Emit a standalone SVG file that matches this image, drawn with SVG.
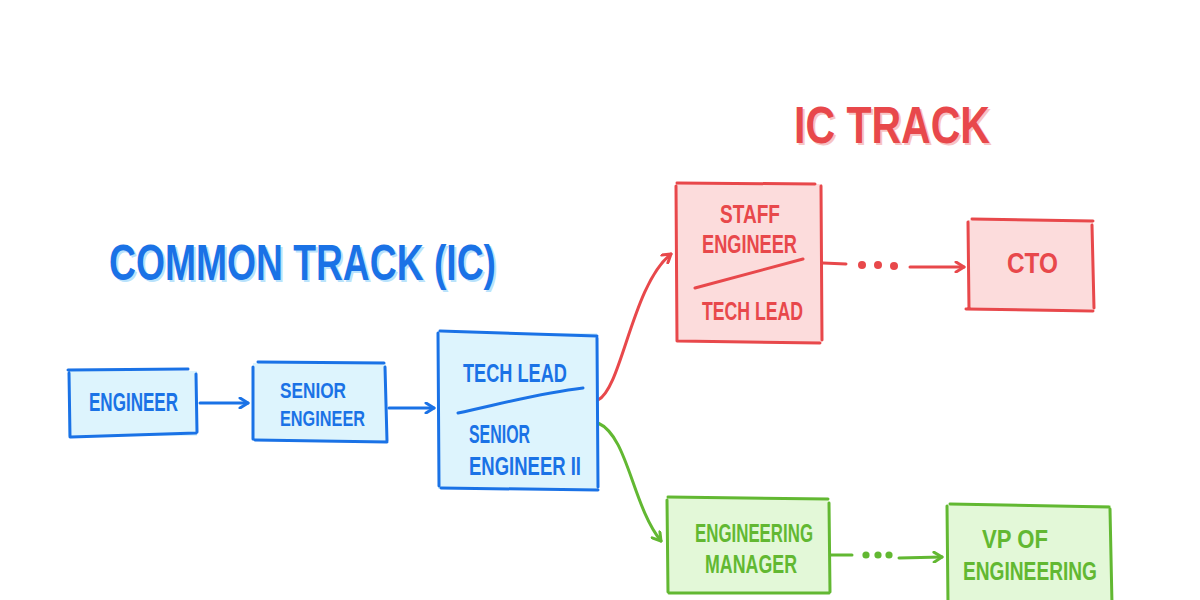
<svg xmlns="http://www.w3.org/2000/svg" width="1200" height="600" viewBox="0 0 1200 600">
<defs>
<style>
.t{font-family:"Liberation Sans",Arial,sans-serif;font-weight:bold}
.lb{font-size:25px}
.ls{font-size:22px}
.blue{fill:#1a72e6}
.red{fill:#e8484b}
.green{fill:#62b832}
.sb{stroke:#1a72e6;stroke-width:3;fill:none;stroke-linecap:round;stroke-linejoin:round}
.sr{stroke:#e8484b;stroke-width:3;fill:none;stroke-linecap:round;stroke-linejoin:round}
.sg{stroke:#62b832;stroke-width:3;fill:none;stroke-linecap:round;stroke-linejoin:round}
.fb{fill:#ddf4fd}
.fr{fill:#fcdcdc}
.fg{fill:#e3f8d8}
</style>
<marker id="ab" viewBox="0 0 12 12" refX="10" refY="6" markerWidth="12" markerHeight="12" markerUnits="userSpaceOnUse" orient="auto"><path d="M2,1 L10,6 L2,11" fill="none" stroke="#1a72e6" stroke-width="3" stroke-linecap="round" stroke-linejoin="round"/></marker>
<marker id="ar" viewBox="0 0 12 12" refX="10" refY="6" markerWidth="12" markerHeight="12" markerUnits="userSpaceOnUse" orient="auto"><path d="M2,1 L10,6 L2,11" fill="none" stroke="#e8484b" stroke-width="3" stroke-linecap="round" stroke-linejoin="round"/></marker>
<marker id="ag" viewBox="0 0 12 12" refX="10" refY="6" markerWidth="12" markerHeight="12" markerUnits="userSpaceOnUse" orient="auto"><path d="M2,1 L10,6 L2,11" fill="none" stroke="#62b832" stroke-width="3" stroke-linecap="round" stroke-linejoin="round"/></marker>
</defs>
<rect width="1200" height="600" fill="#ffffff"/>

<g id="title-common">
<text class="t" x="111" y="282" font-size="50" textLength="387" lengthAdjust="spacingAndGlyphs" fill="#b9e2fb">COMMON TRACK (IC)</text>
<text class="t blue" x="109" y="280" font-size="50" textLength="387" lengthAdjust="spacingAndGlyphs">COMMON TRACK (IC)</text>
</g>
<g id="title-ic">
<text class="t" x="796" y="145" font-size="52" textLength="196" lengthAdjust="spacingAndGlyphs" fill="#f7c4c4">IC TRACK</text>
<text class="t red" x="794" y="143" font-size="52" textLength="196" lengthAdjust="spacingAndGlyphs">IC TRACK</text>
</g>

<g id="connectors">
<path class="sb" d="M200,403 L248,403" marker-end="url(#ab)"/>
<path class="sb" d="M389,408 L434,408" marker-end="url(#ab)"/>
<path class="sr" d="M598,400 C622,388 632,285 671,254" marker-end="url(#ar)"/>
<path class="sg" d="M598,423 C628,436 632,505 661,541" marker-end="url(#ag)"/>
<path class="sr" d="M823,263 L846,264"/>
<circle cx="862" cy="265" r="4" fill="#e8484b"/>
<circle cx="878" cy="265" r="4" fill="#e8484b"/>
<circle cx="894" cy="266" r="4" fill="#e8484b"/>
<path class="sr" d="M910,267 L964,267" marker-end="url(#ar)"/>
<path class="sg" d="M830,555 L852,555"/>
<circle cx="866" cy="555" r="3.6" fill="#62b832"/>
<circle cx="878" cy="555" r="3.6" fill="#62b832"/>
<circle cx="889" cy="555" r="3.6" fill="#62b832"/>
<path class="sg" d="M899,558 L942,557" marker-end="url(#ag)"/>
</g>

<g id="node-engineer">
<rect class="fb" x="68" y="371" width="129" height="65"/>
<path class="sb" d="M68,370 L188,369 M69,373 L70,437 M71,437 L196,433 M196,374 L197,432"/>
<text class="t blue lb" x="89" y="411" textLength="89" lengthAdjust="spacingAndGlyphs">ENGINEER</text>
</g>

<g id="node-senior">
<rect class="fb" x="253" y="363" width="133" height="78"/>
<path class="sb" d="M258,362 L384,363 M253,367 L253,439 M255,440 L387,442 M385,367 L387,441"/>
<text class="t blue ls" x="280" y="398" textLength="66" lengthAdjust="spacingAndGlyphs">SENIOR</text>
<text class="t blue ls" x="280" y="426" textLength="85" lengthAdjust="spacingAndGlyphs">ENGINEER</text>
</g>

<g id="node-techlead">
<rect class="fb" x="438" y="333" width="159" height="156"/>
<path class="sb" d="M440,331 L597,336 M438,333 L439,486 M441,488 L598,490 M597,338 L598,487"/>
<text class="t blue lb" x="463" y="382" textLength="104" lengthAdjust="spacingAndGlyphs">TECH LEAD</text>
<path class="sb" d="M458,413 C500,404 540,393 583,388"/>
<text class="t blue lb" x="469" y="443" textLength="61" lengthAdjust="spacingAndGlyphs">SENIOR</text>
<text class="t blue lb" x="469" y="475" textLength="112" lengthAdjust="spacingAndGlyphs">ENGINEER II</text>
</g>

<g id="node-staff">
<rect class="fr" x="676" y="184" width="146" height="158"/>
<path class="sr" d="M677,183 L815,184 M676,186 L677,341 M678,341 L820,343 M821,186 L822,340"/>
<text class="t red lb" x="720" y="223" textLength="60" lengthAdjust="spacingAndGlyphs">STAFF</text>
<text class="t red lb" x="702" y="253" textLength="95" lengthAdjust="spacingAndGlyphs">ENGINEER</text>
<path class="sr" d="M695,288 L803,259"/>
<text class="t red lb" x="702" y="320" textLength="101" lengthAdjust="spacingAndGlyphs">TECH LEAD</text>
</g>

<g id="node-cto">
<rect class="fr" x="968" y="220" width="125" height="89"/>
<path class="sr" d="M972,219 L1093,221 M968,222 L969,309 M966,309 L1093,311 M1092,225 L1094,308"/>
<text class="t red" x="1007" y="273" font-size="29" textLength="51" lengthAdjust="spacingAndGlyphs">CTO</text>
</g>

<g id="node-em">
<rect class="fg" x="667" y="498" width="162" height="95"/>
<path class="sg" d="M668,497 L828,499 M667,500 L668,592 M669,593 L829,593 M829,503 L830,592"/>
<text class="t green lb" x="695" y="542" textLength="118" lengthAdjust="spacingAndGlyphs">ENGINEERING</text>
<text class="t green lb" x="705" y="573" textLength="92" lengthAdjust="spacingAndGlyphs">MANAGER</text>
</g>

<g id="node-vp">
<rect class="fg" x="947" y="505" width="164" height="100"/>
<path class="sg" d="M950,504 L1109,507 M947,506 L948,604 M1110,509 L1112,604"/>
<text class="t green lb" x="982" y="548" textLength="66" lengthAdjust="spacingAndGlyphs">VP OF</text>
<text class="t green lb" x="963" y="580" textLength="134" lengthAdjust="spacingAndGlyphs">ENGINEERING</text>
</g>
</svg>
